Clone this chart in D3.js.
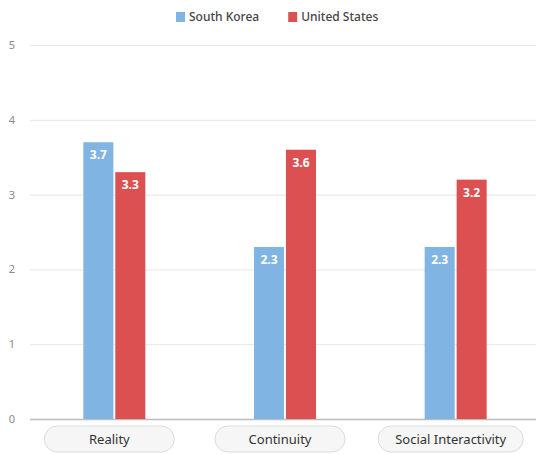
<!DOCTYPE html>
<html>
<head>
<meta charset="utf-8">
<script src="https://cdn.jsdelivr.net/npm/d3@7"></script>
<style>
  html, body { margin: 0; padding: 0; background: #fff; }
  svg { display: block; font-family: "Noto Sans", "Open Sans", sans-serif; }
</style>
</head>
<body>
<svg id="chart" width="536" height="454"></svg>
<script>
// Survey scores by dimension and country
const categories = ["Reality", "Continuity", "Social Interactivity"];
const seriesNames = ["South Korea", "United States"];
const southKorea = [3.7, 2.3, 2.3];
const unitedStates = [3.3, 3.6, 3.2];
const yTicks = [0, 1, 2, 3, 4, 5];
const seriesColors = ["#80b4e2", "#dc5052"];

const seriesValues = [southKorea, unitedStates];
const svg = d3.select("#chart");
const W = 536;

const x = d3.scaleBand().domain(categories).range([29, 541]);
const y = d3.scaleLinear().domain([0, 5]).range([419, 45]);
const inner = d3.scaleBand().domain(seriesNames).range([-31, 31]).paddingInner(0.06);

// gridlines + y tick labels
const yAxis = svg.append("g")
  .call(d3.axisLeft(y).tickValues(yTicks).tickFormat(d3.format("d")).tickSize(0).tickPadding(0));
yAxis.select(".domain").remove();
yAxis.selectAll(".tick line").remove();
yAxis.selectAll(".tick").append("line")
  .attr("x1", 30).attr("x2", W)
  .attr("stroke", d => d === 0 ? "#bdbdbd" : "#e6e6e6")
  .attr("stroke-width", d => d === 0 ? 1.5 : 1);
yAxis.selectAll(".tick text")
  .attr("x", 12).attr("text-anchor", "middle")
  .attr("fill", "#8a8a8a").style("font-size", "11px")
  .style("font-family", "'Noto Sans', sans-serif");

// bars
const groups = svg.append("g").selectAll("g")
  .data(categories).join("g")
  .attr("transform", d => `translate(${x(d) + x.bandwidth() / 2},0)`);

groups.each(function(cat, ci) {
  const g = d3.select(this);
  seriesNames.forEach((s, si) => {
    const v = seriesValues[si][ci];
    g.append("rect")
      .attr("x", inner(s))
      .attr("width", inner.bandwidth())
      .attr("y", y(v))
      .attr("height", y(0) - y(v))
      .attr("fill", seriesColors[si]);
    g.append("text")
      .attr("x", inner(s) + inner.bandwidth() / 2)
      .attr("y", y(v) + 17)
      .attr("text-anchor", "middle")
      .attr("fill", "#fff")
      .style("font-size", "12px").style("font-weight", "700")
      .text(v.toFixed(1));
  });
});

// category pills
const pills = svg.append("g").selectAll("g")
  .data(categories).join("g")
  .attr("transform", d => `translate(${x(d) + x.bandwidth() / 2 - 5},439)`);
pills.append("text")
  .attr("text-anchor", "middle").attr("dy", "0.36em")
  .attr("fill", "#333").style("font-size", "13px")
  .text(d => d);
pills.each(function() {
  const g = d3.select(this);
  const tw = g.select("text").node().getComputedTextLength();
  const w = Math.max(130, tw + 34);
  g.insert("rect", "text")
    .attr("x", -w / 2).attr("y", -13).attr("width", w).attr("height", 26)
    .attr("rx", 13).attr("fill", "#f6f6f6").attr("stroke", "#dcdcdc");
});

// legend
const legend = svg.append("g").attr("transform", "translate(176,17)");
let lx = 0;
seriesNames.forEach((s, i) => {
  const item = legend.append("g").attr("transform", `translate(${lx},0)`);
  item.append("rect").attr("x", 0).attr("y", -5).attr("width", 9).attr("height", 10)
    .attr("fill", seriesColors[i]);
  const t = item.append("text").attr("x", 13).attr("dy", "0.36em")
    .attr("fill", "#444").style("font-size", "12px").style("font-weight", "500")
    .text(s);
  lx += 13 + t.node().getComputedTextLength() + 29;
});
</script>
</body>
</html>
